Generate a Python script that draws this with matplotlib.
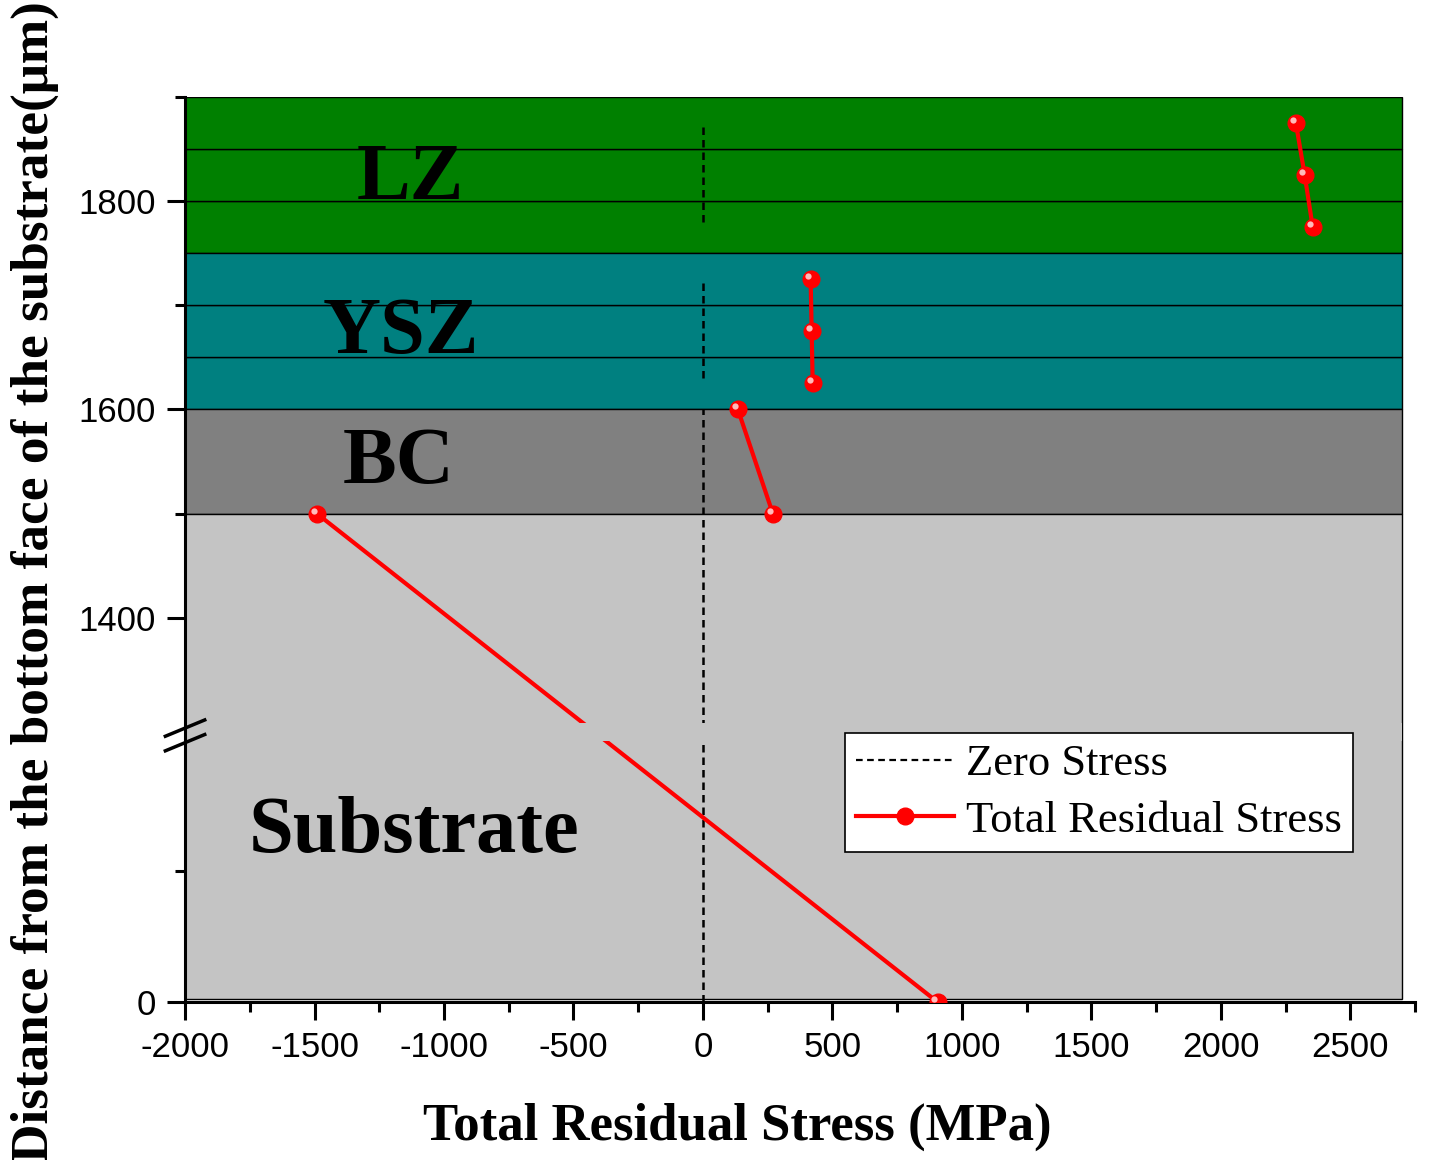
import matplotlib
matplotlib.use("Agg")
import matplotlib.pyplot as plt
from matplotlib.patches import Rectangle
from matplotlib.lines import Line2D
import matplotlib.transforms as mtransforms

plt.rcParams['axes.unicode_minus'] = False

SERIF = "Liberation Serif"
SANS = "Liberation Sans"

# depth 0 sits below the axis break, so it gets its own position on the axis
Y_ZERO = 1031
BREAK_LO, BREAK_HI = 1282, 1299

def to_axis(depth):
    return Y_ZERO if depth == 0 else depth

# coating layers (sub-layers of 50 um each)
layer_bottoms = [1750, 1800, 1850, 1600, 1650, 1700, 1500, 0]
layer_tops = [1800, 1850, 1900, 1650, 1700, 1750, 1600, 1500]
layer_colors = ["#008000", "#008000", "#008000", "#008080", "#008080", "#008080",
                "#808080", "#c4c4c4"]
layer_names = ["LZ", "YSZ", "BC", "Substrate"]
name_x = [-1129, -1168, -1175, -1117]
name_y = [1802, 1654, 1529, 1175]

# total residual stress per layer (MPa) at depth (um)
lz_stress = [2290, 2324, 2355]
lz_depth = [1875, 1825, 1775]
ysz_stress = [416, 420, 424]
ysz_depth = [1725, 1675, 1625]
bc_stress = [135, 270]
bc_depth = [1600, 1500]
sub_stress = [-1491, 906]
sub_depth = [1500, 0]

# zero stress guide segments (depth ranges)
zero_from = [1780, 1630, 0]
zero_to = [1875, 1725, 1600]

x_ticks = [-2000, -1500, -1000, -500, 0, 500, 1000, 1500, 2000, 2500]
x_labels = ["-2000", "-1500", "-1000", "-500", "0", "500", "1000", "1500", "2000", "2500"]
x_minor = [-1750, -1250, -750, -250, 250, 750, 1250, 1750, 2250, 2750]
y_ticks = [0, 1400, 1600, 1800]
y_labels = ["0", "1400", "1600", "1800"]
y_minor = [1157, 1500, 1700, 1900]

fig = plt.figure(figsize=(14.3, 11.6), dpi=100)
ax = fig.add_axes([0.1294, 0.1362, 0.8601, 0.7802])
ax.set_xlim(-2000, 2750)
ax.set_ylim(Y_ZERO, 1900)

# layer blocks
for b, t, c in zip(layer_bottoms, layer_tops, layer_colors):
    b_ax = to_axis(b) + (3 if b == 0 else 0)
    ax.add_patch(Rectangle((-2000, b_ax), 4700, to_axis(t) - b_ax,
                           facecolor=c, edgecolor="black", lw=1.0, zorder=1))

for name, tx, ty in zip(layer_names, name_x, name_y):
    ax.text(tx, ty, name, ha="center", va="baseline", fontsize=58,
            fontweight="bold", family=SERIF, zorder=3)

# zero stress line
for z0, z1 in zip(zero_from, zero_to):
    ax.plot([0, 0], [to_axis(z0), to_axis(z1)], color="black", lw=1.8,
            ls=(0, (3, 2)), zorder=2)

# stress profiles
hl = mtransforms.offset_copy(ax.transData, fig=fig, x=-2.2, y=2.2, units="points")
for xs, ds in [(lz_stress, lz_depth), (ysz_stress, ysz_depth),
               (bc_stress, bc_depth), (sub_stress, sub_depth)]:
    ys = [to_axis(d) for d in ds]
    ax.plot(xs, ys, color="red", lw=3, zorder=3)
    ax.plot(xs, ys, ls="none", marker="o", ms=12, mfc="red", mec="red", zorder=5)
    ax.plot(xs, ys, ls="none", marker="o", ms=4.5, mfc="#ffd0d0", mec="none",
            alpha=0.9, transform=hl, zorder=6)

# hide the data inside the axis break
ax.add_patch(Rectangle((-1990, BREAK_LO), 4690, BREAK_HI - BREAK_LO,
                       facecolor="#c4c4c4", edgecolor="none", zorder=4))

# break marks on the left spine
for yb in [1294, 1280]:
    yb_ax = ax.transAxes.inverted().transform(ax.transData.transform((-2000, yb)))[1]
    ax.plot([-0.016, 0.016], [yb_ax - 0.009, yb_ax + 0.009], color="black", lw=2.5,
            transform=ax.transAxes, clip_on=False, zorder=7)

# axes styling
for side in ["top", "right"]:
    ax.spines[side].set_visible(False)
for side in ["left", "bottom"]:
    ax.spines[side].set_linewidth(2.2)

ax.set_xticks(x_ticks)
ax.set_xticklabels(x_labels)
ax.set_xticks(x_minor, minor=True)
ax.set_yticks([to_axis(v) for v in y_ticks])
ax.set_yticklabels(y_labels)
ax.set_yticks(y_minor, minor=True)
ax.tick_params(which="major", direction="out", length=13, width=2.2, pad=8)
ax.tick_params(which="minor", direction="out", length=7.5, width=2.2)
for lbl in ax.get_xticklabels() + ax.get_yticklabels():
    lbl.set_fontsize(25)
    lbl.set_family(SANS)

fig.text(737 / 1430, 1 - 1127 / 1160, "Total Residual Stress (MPa)", ha="center",
         va="center", fontsize=38, fontweight="bold", family=SERIF)
fig.text(35 / 1430, 1 - 582 / 1160, "Distance from the bottom face of the substrate(\u03bcm)",
         ha="center", va="center", rotation=90, fontsize=38.3, fontweight="bold",
         family=SERIF)

handles = [
    Line2D([], [], color="black", lw=1.6, ls=(0, (3, 2))),
    Line2D([], [], color="red", lw=3, marker="o", ms=12),
]
leg = ax.legend(handles, ["Zero Stress", "Total Residual Stress"],
                loc="upper left", bbox_to_anchor=(0.5366, 0.297),
                borderaxespad=0, borderpad=0.25, handlelength=2.2,
                handletextpad=0.28, labelspacing=0.36, fancybox=False,
                prop={"family": SERIF, "size": 32})
leg.set_zorder(10)
leg.get_frame().set_edgecolor("black")
leg.get_frame().set_linewidth(1.2)
leg.get_frame().set_alpha(1)

fig.savefig("out.png", dpi=100)
